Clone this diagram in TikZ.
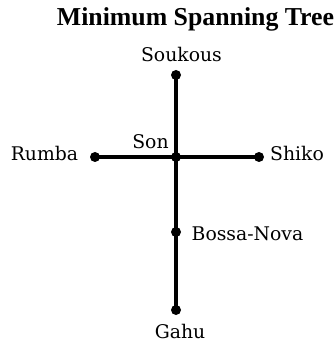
\documentclass[tikz,border=0pt]{standalone}
\usepackage{fontspec}
\setmainfont{DejaVu Serif}
\newfontfamily\titlefont{Liberation Serif}
\begin{document}
\begin{tikzpicture}[x=1pt,y=-1pt,
  vdot/.style={circle,fill=black,inner sep=0pt,minimum size=10pt},
  lbl/.style={anchor=base,inner sep=0pt,font=\fontsize{18.8}{22}\selectfont},
  edge/.style={line width=3.5pt}]
\useasboundingbox (0,0) rectangle (334,344);
\node[anchor=base,inner sep=0pt,font=\titlefont\bfseries\fontsize{25.8}{29}\selectfont] (title) at (195.5,26) {Minimum Spanning Tree};
\node[vdot] (soukous) at (176,75) {};
\node[vdot] (son) at (176,157) {};
\node[vdot] (rumba) at (95,157) {};
\node[vdot] (shiko) at (259,157) {};
\node[vdot] (bossa) at (176,232) {};
\node[vdot] (gahu) at (176,310) {};
\draw[edge] (soukous.center) -- (son.center);
\draw[edge] (rumba.center) -- (son.center);
\draw[edge] (son.center) -- (shiko.center);
\draw[edge] (son.center) -- (bossa.center);
\draw[edge] (bossa.center) -- (gahu.center);
\node[lbl] (lsoukous) at (181.5,62) {Soukous};
\node[lbl] (lson) at (150.5,149) {Son};
\node[lbl] (lrumba) at (44.5,161) {Rumba};
\node[lbl] (lshiko) at (297,161) {Shiko};
\node[lbl,anchor=base west] (lbossa) at (191.5,240) {Bossa-Nova};
\node[lbl] (lgahu) at (180,338) {Gahu};
\end{tikzpicture}
\end{document}
